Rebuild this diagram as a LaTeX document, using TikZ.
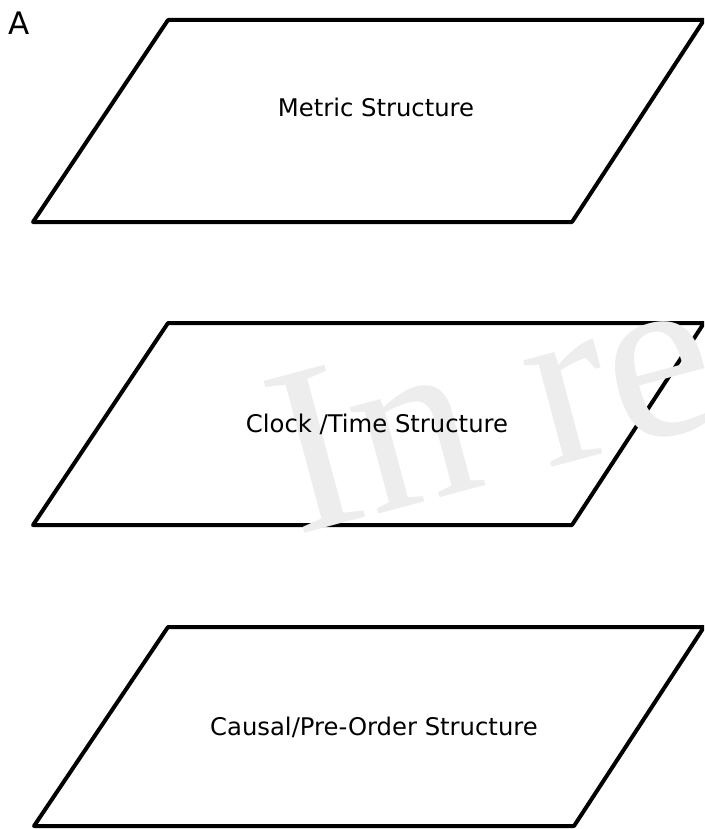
\documentclass[tikz,border=0pt]{standalone}
\usepackage{fontspec}
\setmainfont{DejaVu Sans}
\newfontfamily\wmfont{Liberation Serif}
\begin{document}
\begin{tikzpicture}[x=1pt,y=-1pt,
  plane/.style={draw=black,line width=4pt,line join=round,fill=white},
  label/.style={font=\fontsize{24.3}{28}\selectfont,inner sep=0pt}]
\useasboundingbox (0,0) rectangle (704,829);
\clip (0,0) rectangle (704,829);
% planes
\draw[plane] (168,20) -- (704,20) -- (572,222) -- (33,222) -- cycle;
\draw[plane] (168,323) -- (704,323) -- (572,525) -- (33,525) -- cycle;
\draw[plane] (168,627) -- (704,627) -- (574,826) -- (34,826) -- cycle;
% watermark
\node[text=black!7,font=\wmfont\fontsize{240}{240}\selectfont,rotate=15,anchor=base west,inner sep=0pt] (wm) at (296,536) {In re};
% labels
\node[label] (metric) at (376,107) {Metric Structure};
\node[label] (clock) at (377,424) {Clock /Time Structure};
\node[label] (causal) at (374,727) {Causal/Pre-Order Structure};
\node[font=\fontsize{31}{33}\selectfont,inner sep=0pt,anchor=north west] (A) at (8,12) {A};
\end{tikzpicture}
\end{document}
